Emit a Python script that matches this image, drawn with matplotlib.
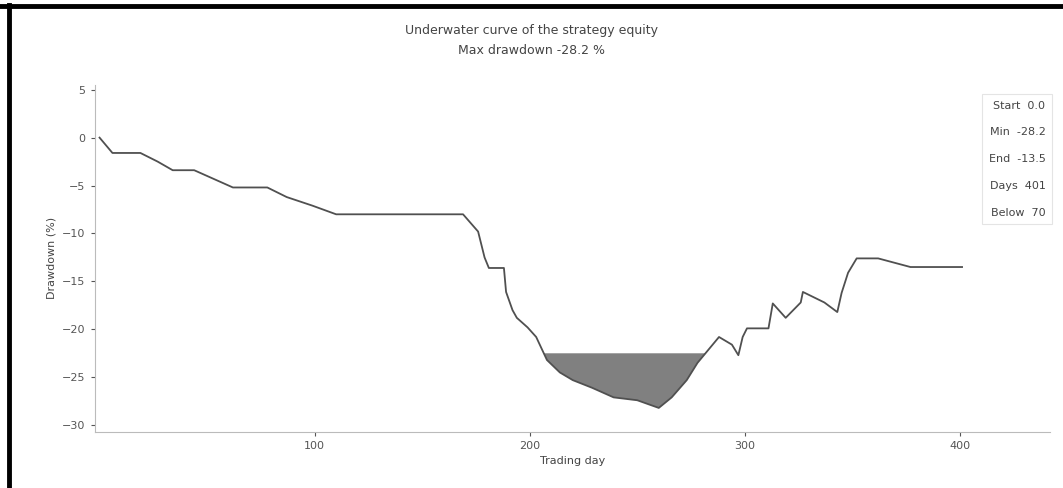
import matplotlib
matplotlib.use("Agg")
import matplotlib.pyplot as plt
from matplotlib.lines import Line2D
import numpy as np

# day index and drawdown (%)
DAYS = [0, 6, 19, 27, 34, 44, 53, 62, 78, 87, 99, 110, 160, 169, 176, 179,
        181, 188, 189, 192, 194, 199, 203, 208, 214, 220, 229, 239, 250, 260,
        266, 273, 278, 288, 294, 297, 299, 301, 311, 313, 319, 326, 327, 337,
        343, 345, 348, 352, 362, 377, 387, 401]
DRAWDOWN = [0.0, -1.6, -1.6, -2.5, -3.4, -3.4, -4.3, -5.2, -5.2, -6.2, -7.1,
            -8.0, -8.0, -8.0, -9.8, -12.5, -13.6, -13.6, -16.1, -18.0, -18.8,
            -19.8, -20.8, -23.2, -24.5, -25.3, -26.1, -27.1, -27.4, -28.2,
            -27.1, -25.3, -23.5, -20.8, -21.6, -22.7, -20.8, -19.9, -19.9,
            -17.3, -18.8, -17.2, -16.1, -17.2, -18.2, -16.2, -14.1, -12.6,
            -12.6, -13.5, -13.5, -13.5]
THRESHOLD = -22.5

STATS_LABELS = ["Start  0.0", "Min  -28.2", "End  -13.5", "Days  401", "Below  70"]

Y_TICKS = [5, 0, -5, -10, -15, -20, -25, -30]
X_TICKS = [100, 200, 300, 400]

fig = plt.figure(figsize=(10.63, 4.88), dpi=100)
ax = fig.add_axes([0.089, 0.115, 0.899, 0.711])

x = np.array(DAYS, dtype=float)
y = np.array(DRAWDOWN, dtype=float)

ax.plot(x, y, color="#505050", linewidth=1.3, zorder=3)
ax.fill_between(x, y, THRESHOLD, where=y < THRESHOLD, interpolate=True,
                color="#6a6a6a", alpha=0.85, linewidth=0, zorder=2)

ax.set_xlim(-2.3, 442)
ax.set_ylim(-30.7, 5.5)
ax.set_xticks(X_TICKS)
ax.set_yticks(Y_TICKS)
ax.tick_params(labelsize=8, colors="#555555", length=3)
for side in ("top", "right"):
    ax.spines[side].set_visible(False)
for side in ("left", "bottom"):
    ax.spines[side].set_color("#bbbbbb")

ax.set_xlabel("Trading day", fontsize=8, color="#444444")
ax.set_ylabel("Drawdown (%)", fontsize=8, color="#444444")

fig.text(0.5, 0.93, "Underwater curve of the strategy equity", ha="center",
         fontsize=9, color="#444444")
fig.text(0.5, 0.89, "Max drawdown -28.2 %", ha="center",
         fontsize=9, color="#444444")

ax.text(0.995, 0.955, "\n".join(STATS_LABELS), transform=ax.transAxes,
        ha="right", va="top", fontsize=8, color="#444444", linespacing=3.1,
        bbox=dict(boxstyle="square,pad=0.6", facecolor="white",
                  edgecolor="#e4e4e4", linewidth=0.8))

# thick frame on top and left edges
fig.add_artist(Line2D([0, 1], [0.988, 0.988], color="black", linewidth=3.5,
                      transform=fig.transFigure))
fig.add_artist(Line2D([0.0085, 0.0085], [0, 0.99], color="black", linewidth=3.5,
                      transform=fig.transFigure))

fig.savefig("out.png", dpi=100)
